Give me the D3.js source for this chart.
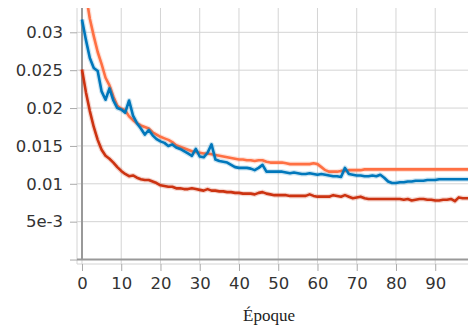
<!DOCTYPE html>
<html>
<head>
<meta charset="utf-8">
<script src="https://cdn.jsdelivr.net/npm/d3@7"></script>
<style>
  body { margin: 0; background: #fff; }
  .tick text { font-family: "DejaVu Sans", sans-serif; font-size: 16.5px; fill: #333; }
  .tick line { stroke: #aaa; }
  .xlabel { font-family: "Liberation Serif", serif; font-size: 17px; fill: #222; }
</style>
</head>
<body>
<div id="vis"></div>
<script>
// epoch tick labels
const xTicks = [0, 10, 20, 30, 40, 50, 60, 70, 80, 90];
const yTicks = [0, 0.005, 0.01, 0.015, 0.02, 0.025, 0.03];

// blue run
const blueVals = [0.0317, 0.0290, 0.0266, 0.0253, 0.0249, 0.0222, 0.0211, 0.0226, 0.0210, 0.0200,
  0.0198, 0.0194, 0.0210, 0.0190, 0.0180, 0.0173, 0.0165, 0.0171, 0.0164, 0.0159,
  0.0156, 0.0154, 0.0150, 0.0152, 0.0148, 0.0146, 0.0143, 0.0140, 0.0137, 0.0146,
  0.0136, 0.0135, 0.0141, 0.0152, 0.0132, 0.0130, 0.0129, 0.0128, 0.0125, 0.0122,
  0.0121, 0.0121, 0.0121, 0.0120, 0.0118, 0.0121, 0.0125, 0.0116, 0.0116, 0.0116,
  0.0116, 0.0116, 0.0115, 0.0114, 0.0115, 0.0114, 0.0113, 0.0113, 0.0114, 0.0113,
  0.0112, 0.0113, 0.0112, 0.0111, 0.0110, 0.0110, 0.0109, 0.0121, 0.0113, 0.0112,
  0.0111, 0.0111, 0.0110, 0.0110, 0.0111, 0.0110, 0.0112, 0.0108, 0.0103, 0.0101,
  0.0101, 0.0102, 0.0102, 0.0103, 0.0103, 0.0104, 0.0104, 0.0104, 0.0105, 0.0105,
  0.0105, 0.0106, 0.0106, 0.0106, 0.0106, 0.0106, 0.0106, 0.0106, 0.0106, 0.0106];

// light orange run
const orangeVals = [0.0385, 0.0350, 0.0318, 0.0295, 0.0274, 0.0258, 0.0240, 0.0230, 0.0215, 0.0203,
  0.0199, 0.0197, 0.0189, 0.0184, 0.0180, 0.0177, 0.0175, 0.0173, 0.0168, 0.0165,
  0.0162, 0.0160, 0.0158, 0.0155, 0.0151, 0.0149, 0.0147, 0.0145, 0.0143, 0.0142,
  0.0141, 0.0140, 0.0140, 0.0139, 0.0138, 0.0137, 0.0136, 0.0135, 0.0134, 0.0133,
  0.0132, 0.0132, 0.0131, 0.0131, 0.0130, 0.0131, 0.0131, 0.0129, 0.0128, 0.0128,
  0.0128, 0.0128, 0.0127, 0.0126, 0.0126, 0.0126, 0.0126, 0.0126, 0.0126, 0.0127,
  0.0126, 0.0122, 0.0118, 0.0116, 0.0116, 0.0116, 0.0117, 0.0117, 0.0118, 0.0118,
  0.0118, 0.0118, 0.0119, 0.0119, 0.0119, 0.0119, 0.0119, 0.0119, 0.0119, 0.0119,
  0.0119, 0.0119, 0.0119, 0.0119, 0.0119, 0.0119, 0.0119, 0.0119, 0.0119, 0.0119,
  0.0119, 0.0119, 0.0119, 0.0119, 0.0119, 0.0119, 0.0119, 0.0119, 0.0119, 0.0119];

// dark red run
const redVals = [0.0251, 0.0221, 0.0196, 0.0175, 0.0158, 0.0145, 0.0137, 0.0133, 0.0128, 0.0122,
  0.0117, 0.0113, 0.0110, 0.0111, 0.0108, 0.0106, 0.0105, 0.0105, 0.0103, 0.0101,
  0.0098, 0.0097, 0.0096, 0.0096, 0.0094, 0.0094, 0.0093, 0.0093, 0.0094, 0.0093,
  0.0092, 0.0091, 0.0093, 0.0091, 0.0091, 0.0090, 0.0090, 0.0089, 0.0089, 0.0088,
  0.0088, 0.0087, 0.0087, 0.0087, 0.0086, 0.0088, 0.0089, 0.0087, 0.0086, 0.0085,
  0.0085, 0.0085, 0.0085, 0.0084, 0.0084, 0.0084, 0.0084, 0.0084, 0.0086, 0.0084,
  0.0083, 0.0083, 0.0083, 0.0083, 0.0085, 0.0084, 0.0083, 0.0085, 0.0083, 0.0081,
  0.0082, 0.0083, 0.0081, 0.0080, 0.0080, 0.0080, 0.0080, 0.0080, 0.0080, 0.0080,
  0.0080, 0.0080, 0.0079, 0.0080, 0.0078, 0.0079, 0.0080, 0.0080, 0.0079, 0.0079,
  0.0078, 0.0078, 0.0079, 0.0079, 0.0080, 0.0077, 0.0082, 0.0081, 0.0081, 0.0081];

var margin = { top: 8, right: 0, bottom: 72, left: 77 },
    width = 468 - margin.left - margin.right,
    height = 336 - margin.top - margin.bottom;

var svg = d3.select("#vis")
    .append("svg")
    .attr("width", 468)
    .attr("height", 336)
    .append("g")
    .attr("transform", "translate(" + margin.left + "," + margin.top + ")");

var x = d3.scaleLinear().domain([-1.27, 98.35]).range([0, width]);
var y = d3.scaleLinear().domain([-0.00059, 0.03321]).range([height, 0]);

// grid
svg.append("g").selectAll("line")
    .data(xTicks)
    .join("line")
    .attr("x1", d => x(d)).attr("x2", d => x(d))
    .attr("y1", 0).attr("y2", height)
    .attr("stroke", "#d4d4d4").attr("stroke-width", 1);

svg.append("g").selectAll("line")
    .data(yTicks)
    .join("line")
    .attr("x1", 0).attr("x2", width)
    .attr("y1", d => y(d)).attr("y2", d => y(d))
    .attr("stroke", "#d4d4d4").attr("stroke-width", 1);

// plot border left / bottom
svg.append("line").attr("x1", 0).attr("x2", 0).attr("y1", 0).attr("y2", height)
    .attr("stroke", "#d4d4d4");
svg.append("line").attr("x1", 0).attr("x2", width).attr("y1", height).attr("y2", height)
    .attr("stroke", "#d4d4d4");

// zero lines
svg.append("line").attr("x1", x(0)).attr("x2", x(0)).attr("y1", 0).attr("y2", y(0))
    .attr("stroke", "#999").attr("stroke-width", 2);
svg.append("line").attr("x1", 0).attr("x2", width).attr("y1", y(0)).attr("y2", y(0))
    .attr("stroke", "#999").attr("stroke-width", 2);

var xAxis = svg.append("g")
    .attr("transform", "translate(0," + height + ")")
    .call(d3.axisBottom(x).tickValues(xTicks).tickSize(7).tickPadding(6));
xAxis.select(".domain").remove();

var yAxis = svg.append("g")
    .call(d3.axisLeft(y).tickValues(yTicks).tickSize(7).tickPadding(7)
        .tickFormat(d => d === 0 ? "" : (d === 0.005 ? "5e-3" : d3.format("~g")(d))));
yAxis.select(".domain").remove();

svg.append("defs").append("clipPath")
    .attr("id", "clip")
    .append("rect")
    .attr("width", width)
    .attr("height", height);

const surface = svg.append("g").attr("clip-path", "url(#clip)");

const line = d3.line()
    .x((d, i) => x(i))
    .y(d => y(d));

const series = [
    { vals: orangeVals, color: "#ff7043" },
    { vals: blueVals, color: "#0077bb" },
    { vals: redVals, color: "#cc3311" }
];

series.forEach(s => {
    surface.append("path")
        .datum(s.vals)
        .attr("d", line)
        .attr("fill", "none")
        .attr("stroke", s.color)
        .attr("stroke-opacity", 0.2)
        .attr("stroke-width", 5)
        .attr("stroke-linejoin", "round");
    surface.append("path")
        .datum(s.vals)
        .attr("d", line)
        .attr("fill", "none")
        .attr("stroke", s.color)
        .attr("stroke-width", 2.6)
        .attr("stroke-linejoin", "round");
});

svg.append("text")
    .attr("class", "xlabel")
    .attr("x", 192)
    .attr("y", 313)
    .attr("text-anchor", "middle")
    .text("Époque");
</script>
</body>
</html>
